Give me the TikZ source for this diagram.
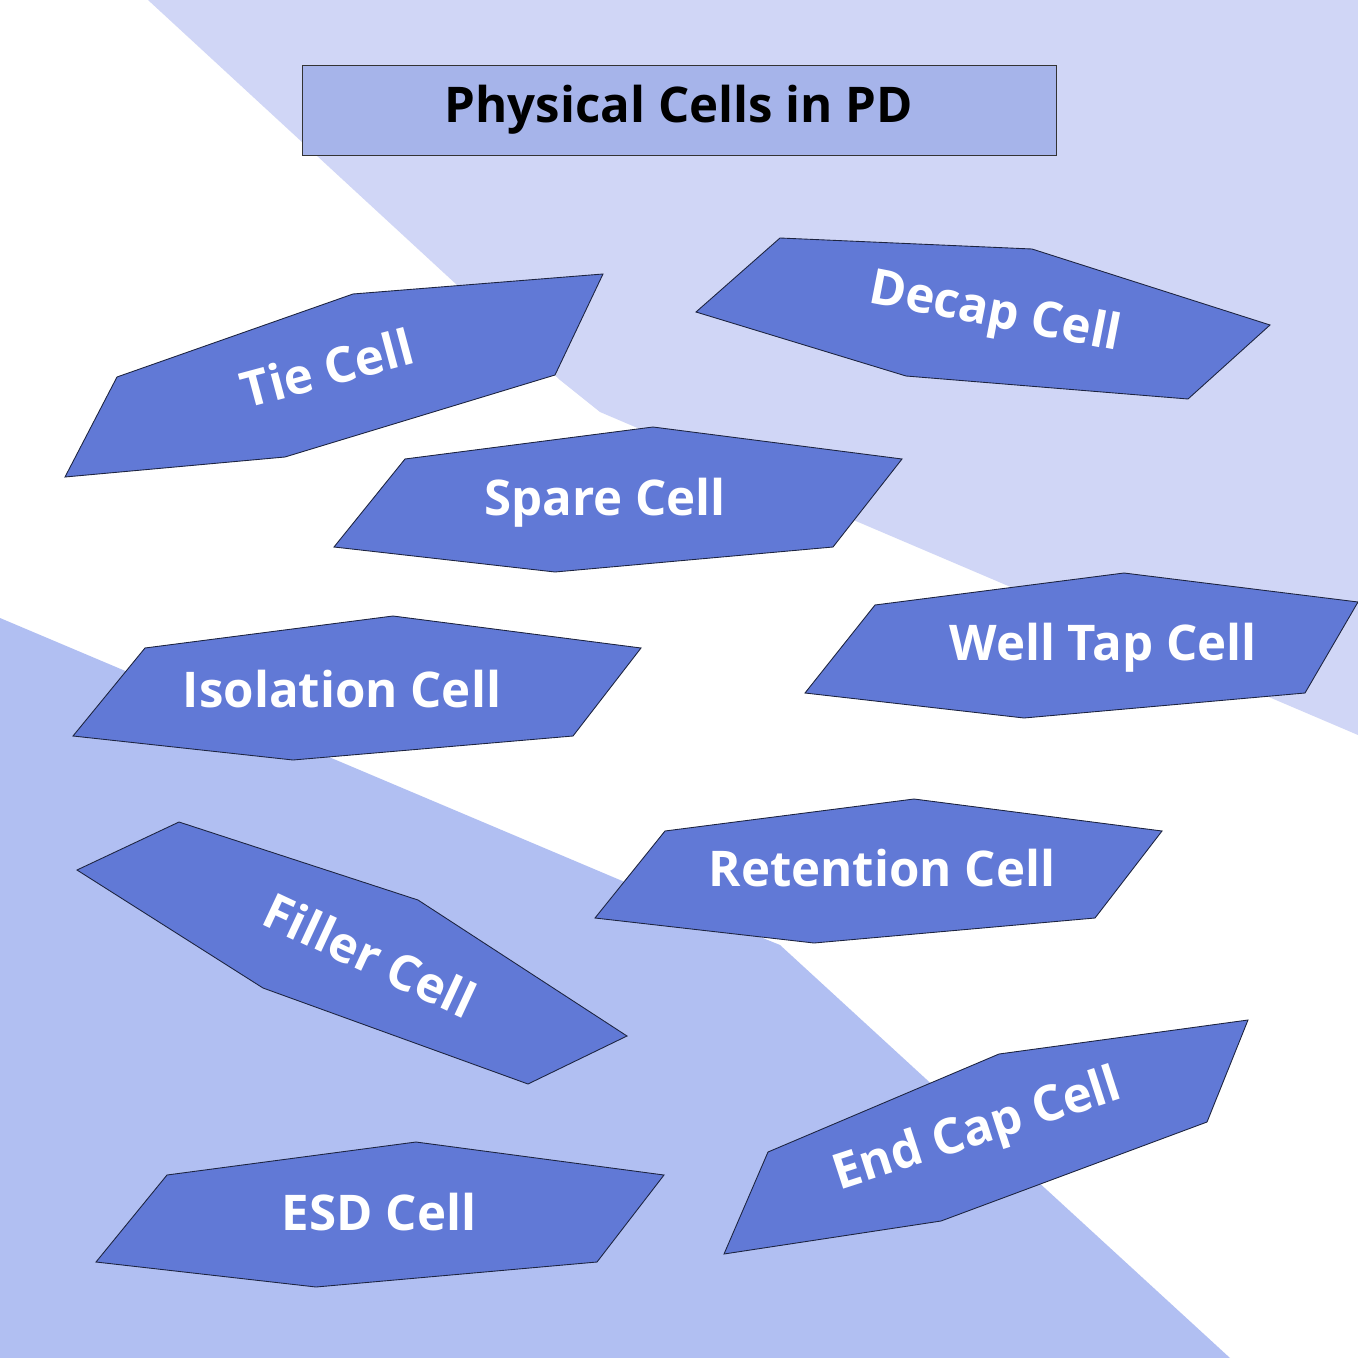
\documentclass[tikz,border=0pt]{standalone}
\usepackage{fontspec}
\setmainfont{Open Sans}
\begin{document}
\definecolor{topbg}{HTML}{D0D6F6}
\definecolor{botbg}{HTML}{B1BFF2}
\definecolor{cell}{HTML}{6179D6}
\definecolor{titlebg}{HTML}{A6B4EA}
\begin{tikzpicture}[x=0.02cm,y=-0.02cm,
  cellshape/.style={fill=cell,draw=black!70!cell,line width=0.5pt},
  lbl/.style={text=white,font=\fontsize{28}{31}\selectfont\bfseries}]
\useasboundingbox (0,0) rectangle (1358,1358);
\fill[white] (0,0) rectangle (1358,1358);
\fill[topbg] (148,0) -- (1358,0) -- (1358,735) -- (600,412) -- (560,380) -- cycle;
\fill[botbg] (0,618) -- (620,880) -- (780,945) -- (1230,1358) -- (0,1358) -- cycle;
\node[draw=black!80,fill=titlebg,minimum width=15.08cm,minimum height=1.8cm,font=\fontsize{28}{31}\selectfont\bfseries] (title) at (679,110) {Physical Cells in PD};
\draw[cellshape] (65,477)--(117,377)--(353,294)--(603,274)--(555,375)--(285,457)--cycle;
\node[lbl,rotate=15] (tie) at (327,368) {Tie Cell};
\draw[cellshape] (696,312)--(780,238)--(1032,249)--(1270,325)--(1188,399)--(906,376)--cycle;
\node[lbl,rotate=-11] (decap) at (995,314) {Decap Cell};
\draw[cellshape] (334,547)--(405,459)--(653,427)--(902,459)--(833,547)--(555,572)--cycle;
\node[lbl] (spare) at (605,503) {Spare Cell};
\draw[cellshape] (805,693)--(875,605)--(1124,573)--(1358,602)--(1305,693)--(1024,718)--cycle;
\node[lbl] (well) at (1103,648) {Well Tap Cell};
\draw[cellshape] (73,736)--(145,648)--(393,616)--(641,648)--(573,736)--(293,760)--cycle;
\node[lbl] (iso) at (342,689) {Isolation Cell};
\draw[cellshape] (595,918)--(665,831)--(914,799)--(1162,831)--(1095,918)--(814,943)--cycle;
\node[lbl] (ret) at (882,868) {Retention Cell};
\draw[cellshape] (77,870)--(179,822)--(418,900)--(627,1036)--(528,1084)--(263,988)--cycle;
\node[lbl,rotate=-25] (filler) at (370,955) {Filler Cell};
\draw[cellshape] (96,1262)--(167,1175)--(416,1142)--(664,1175)--(597,1262)--(316,1287)--cycle;
\node[lbl] (esd) at (379,1212) {ESD Cell};
\draw[cellshape] (724,1254)--(768,1152)--(999,1054)--(1248,1020)--(1207,1122)--(941,1221)--cycle;
\node[lbl,rotate=18] (endcap) at (978,1132) {End Cap Cell};
\end{tikzpicture}
\end{document}
